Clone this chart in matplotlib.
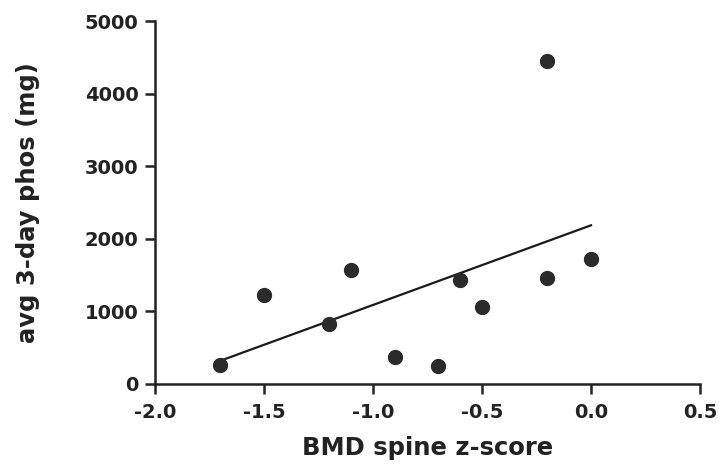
import numpy as np
import matplotlib
matplotlib.use("Agg")
from matplotlib import pyplot as plt

# valores
bmd_spine_z = [-1.7, -1.5, -1.2, -1.1, -0.9, -0.7, -0.6, -0.5, -0.2, -0.2, 0.0]
avg_phos_mg = [260, 1225, 825, 1570, 370, 245, 1430, 1060, 4450, 1460, 1720]

x_ticks = [-2.0, -1.5, -1.0, -0.5, 0.0, 0.5]
y_ticks = [0, 1000, 2000, 3000, 4000, 5000]

plt.rcParams['font.family'] = ['DejaVu Sans']
plt.rcParams['font.weight'] = 'bold'

fig = plt.figure(figsize=(7.19, 4.70), dpi=100)
ax = fig.add_axes([0.2156, 0.183, 0.758, 0.772])

ax.scatter(bmd_spine_z, avg_phos_mg, s=100, color='#2b2b2b', zorder=3)

# recta de regresion
pendiente, corte = np.polyfit(bmd_spine_z, avg_phos_mg, 1)
xs = np.array([min(bmd_spine_z), max(bmd_spine_z)])
ax.plot(xs, pendiente * xs + corte, color='#1a1a1a', lw=1.6)

ax.set_xlim(-2.0, 0.5)
ax.set_ylim(0, 5000)
ax.set_xticks(x_ticks)
ax.set_xticklabels(['%.1f' % t for t in x_ticks])
ax.set_yticks(y_ticks)

for lado in ['top', 'right']:
    ax.spines[lado].set_visible(False)
for lado in ['left', 'bottom']:
    ax.spines[lado].set_linewidth(1.8)
    ax.spines[lado].set_color('#222222')

ax.tick_params(direction='out', length=7, width=1.8, color='#222222',
               labelsize=14)
ax.tick_params(axis='x', pad=7)
ax.tick_params(axis='y', pad=5)
for lbl in ax.get_xticklabels() + ax.get_yticklabels():
    lbl.set_fontweight('bold')
    lbl.set_color('#222222')

ax.set_xlabel('BMD spine z-score', fontsize=17.5, fontweight='bold', color='#222222', labelpad=10)
ax.set_ylabel('avg 3-day phos (mg)', fontsize=17.5, fontweight='bold', color='#222222', labelpad=32)

fig.savefig('out.png', dpi=100)
